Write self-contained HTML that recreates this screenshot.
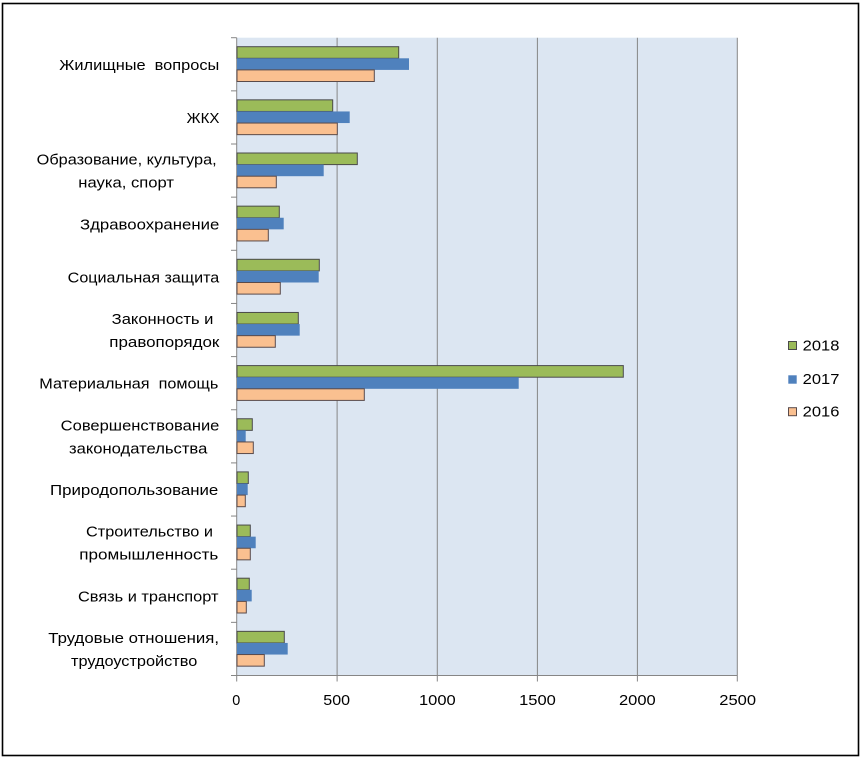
<!DOCTYPE html>
<html><head><meta charset="utf-8"><style>
html,body{margin:0;padding:0;background:#fff;}
svg{display:block;}
text{font-family:"Liberation Sans","DejaVu Sans",sans-serif;font-size:15px;fill:#000;}
</style></head><body>
<svg width="862" height="759" viewBox="0 0 862 759" xmlns="http://www.w3.org/2000/svg">
<rect x="0" y="0" width="862" height="759" fill="#fff"/>
<rect x="2.5" y="3.5" width="856" height="752" fill="none" stroke="#000" stroke-width="1.6"/>
<!-- plot area -->
<rect x="237" y="37.7" width="500" height="637.8" fill="#DCE6F2"/>
<g stroke="#868686" stroke-width="1">
<line x1="337.1" y1="37.7" x2="337.1" y2="681.5"/>
<line x1="437.3" y1="37.7" x2="437.3" y2="681.5"/>
<line x1="537.4" y1="37.7" x2="537.4" y2="681.5"/>
<line x1="637.4" y1="37.7" x2="637.4" y2="681.5"/>
<line x1="737.3" y1="37.7" x2="737.3" y2="681.5"/>
<line x1="236.7" y1="37.7" x2="236.7" y2="681.5"/>
<line x1="231" y1="675.5" x2="737.3" y2="675.5"/>
<line x1="231" y1="37.7" x2="236.7" y2="37.7"/>
<line x1="231" y1="90.85" x2="236.7" y2="90.85"/>
<line x1="231" y1="144" x2="236.7" y2="144"/>
<line x1="231" y1="197.15" x2="236.7" y2="197.15"/>
<line x1="231" y1="250.3" x2="236.7" y2="250.3"/>
<line x1="231" y1="303.45" x2="236.7" y2="303.45"/>
<line x1="231" y1="356.6" x2="236.7" y2="356.6"/>
<line x1="231" y1="409.75" x2="236.7" y2="409.75"/>
<line x1="231" y1="462.9" x2="236.7" y2="462.9"/>
<line x1="231" y1="516.05" x2="236.7" y2="516.05"/>
<line x1="231" y1="569.2" x2="236.7" y2="569.2"/>
<line x1="231" y1="622.35" x2="236.7" y2="622.35"/>
</g>
<!-- bars -->
<g>
<rect x="237" y="46.7" width="161.7" height="11.6" fill="#9BBB59" stroke="#4a4a4a" stroke-width="1"/>
<rect x="237" y="58.3" width="172" height="11.6" fill="#4F81BD"/>
<rect x="237" y="69.9" width="137.3" height="11.6" fill="#FAC090" stroke="#5a4a4a" stroke-width="1"/>
<rect x="237" y="99.85" width="95.7" height="11.6" fill="#9BBB59" stroke="#4a4a4a" stroke-width="1"/>
<rect x="237" y="111.45" width="112.7" height="11.6" fill="#4F81BD"/>
<rect x="237" y="123.05" width="100.3" height="11.6" fill="#FAC090" stroke="#5a4a4a" stroke-width="1"/>
<rect x="237" y="153" width="120.3" height="11.6" fill="#9BBB59" stroke="#4a4a4a" stroke-width="1"/>
<rect x="237" y="164.6" width="86.7" height="11.6" fill="#4F81BD"/>
<rect x="237" y="176.2" width="39.3" height="11.6" fill="#FAC090" stroke="#5a4a4a" stroke-width="1"/>
<rect x="237" y="206.15" width="42.3" height="11.6" fill="#9BBB59" stroke="#4a4a4a" stroke-width="1"/>
<rect x="237" y="217.75" width="46.7" height="11.6" fill="#4F81BD"/>
<rect x="237" y="229.35" width="31.3" height="11.6" fill="#FAC090" stroke="#5a4a4a" stroke-width="1"/>
<rect x="237" y="259.3" width="82.3" height="11.6" fill="#9BBB59" stroke="#4a4a4a" stroke-width="1"/>
<rect x="237" y="270.9" width="81.7" height="11.6" fill="#4F81BD"/>
<rect x="237" y="282.5" width="43.3" height="11.6" fill="#FAC090" stroke="#5a4a4a" stroke-width="1"/>
<rect x="237" y="312.45" width="61.3" height="11.6" fill="#9BBB59" stroke="#4a4a4a" stroke-width="1"/>
<rect x="237" y="324.05" width="62.7" height="11.6" fill="#4F81BD"/>
<rect x="237" y="335.65" width="38.3" height="11.6" fill="#FAC090" stroke="#5a4a4a" stroke-width="1"/>
<rect x="237" y="365.6" width="386.3" height="11.6" fill="#9BBB59" stroke="#4a4a4a" stroke-width="1"/>
<rect x="237" y="377.2" width="281.7" height="11.6" fill="#4F81BD"/>
<rect x="237" y="388.8" width="127.3" height="11.6" fill="#FAC090" stroke="#5a4a4a" stroke-width="1"/>
<rect x="237" y="418.75" width="15.3" height="11.6" fill="#9BBB59" stroke="#4a4a4a" stroke-width="1"/>
<rect x="237" y="430.35" width="8.7" height="11.6" fill="#4F81BD"/>
<rect x="237" y="441.95" width="16.3" height="11.6" fill="#FAC090" stroke="#5a4a4a" stroke-width="1"/>
<rect x="237" y="471.9" width="11.3" height="11.6" fill="#9BBB59" stroke="#4a4a4a" stroke-width="1"/>
<rect x="237" y="483.5" width="10.7" height="11.6" fill="#4F81BD"/>
<rect x="237" y="495.1" width="8.3" height="11.6" fill="#FAC090" stroke="#5a4a4a" stroke-width="1"/>
<rect x="237" y="525.05" width="13.3" height="11.6" fill="#9BBB59" stroke="#4a4a4a" stroke-width="1"/>
<rect x="237" y="536.65" width="18.7" height="11.6" fill="#4F81BD"/>
<rect x="237" y="548.25" width="13.3" height="11.6" fill="#FAC090" stroke="#5a4a4a" stroke-width="1"/>
<rect x="237" y="578.2" width="12.3" height="11.6" fill="#9BBB59" stroke="#4a4a4a" stroke-width="1"/>
<rect x="237" y="589.8" width="14.7" height="11.6" fill="#4F81BD"/>
<rect x="237" y="601.4" width="9.3" height="11.6" fill="#FAC090" stroke="#5a4a4a" stroke-width="1"/>
<rect x="237" y="631.35" width="47.3" height="11.6" fill="#9BBB59" stroke="#4a4a4a" stroke-width="1"/>
<rect x="237" y="642.95" width="50.7" height="11.6" fill="#4F81BD"/>
<rect x="237" y="654.55" width="27.3" height="11.6" fill="#FAC090" stroke="#5a4a4a" stroke-width="1"/>
</g>
<!-- category labels -->
<text x="59.3" y="70" textLength="160" lengthAdjust="spacingAndGlyphs">Жилищные&#160; вопросы</text>
<text x="186.7" y="122.9" textLength="32.7" lengthAdjust="spacingAndGlyphs">ЖКХ</text>
<text x="36.7" y="164.6" textLength="180" lengthAdjust="spacingAndGlyphs">Образование, культура,</text>
<text x="78.3" y="187.3" textLength="95.7" lengthAdjust="spacingAndGlyphs">наука, спорт</text>
<text x="80" y="229.6" textLength="139.3" lengthAdjust="spacingAndGlyphs">Здравоохранение</text>
<text x="67.7" y="282.4" textLength="151.6" lengthAdjust="spacingAndGlyphs">Социальная защита</text>
<text x="111.7" y="324" textLength="101.7" lengthAdjust="spacingAndGlyphs">Законность и</text>
<text x="109.3" y="346.8" textLength="110" lengthAdjust="spacingAndGlyphs">правопорядок</text>
<text x="39.3" y="388.7" textLength="179" lengthAdjust="spacingAndGlyphs">Материальная&#160; помощь</text>
<text x="60.7" y="430.3" textLength="158.7" lengthAdjust="spacingAndGlyphs">Совершенствование</text>
<text x="69" y="453.3" textLength="138.3" lengthAdjust="spacingAndGlyphs">законодательства</text>
<text x="50" y="495" textLength="168.3" lengthAdjust="spacingAndGlyphs">Природопользование</text>
<text x="86" y="536.6" textLength="127" lengthAdjust="spacingAndGlyphs">Строительство и</text>
<text x="79.3" y="559.6" textLength="139" lengthAdjust="spacingAndGlyphs">промышленность</text>
<text x="78" y="601.3" textLength="140.5" lengthAdjust="spacingAndGlyphs">Связь и транспорт</text>
<text x="48.3" y="642.9" textLength="170.7" lengthAdjust="spacingAndGlyphs">Трудовые отношения,</text>
<text x="71" y="665.9" textLength="126.3" lengthAdjust="spacingAndGlyphs">трудоустройство</text>
<!-- x axis labels -->
<text x="232.3" y="705" textLength="8" lengthAdjust="spacingAndGlyphs">0</text>
<text x="323.3" y="705" textLength="26.7" lengthAdjust="spacingAndGlyphs">500</text>
<text x="419" y="705" textLength="36.7" lengthAdjust="spacingAndGlyphs">1000</text>
<text x="519.1" y="705" textLength="36.7" lengthAdjust="spacingAndGlyphs">1500</text>
<text x="619" y="705" textLength="36.7" lengthAdjust="spacingAndGlyphs">2000</text>
<text x="719.3" y="705" textLength="36.7" lengthAdjust="spacingAndGlyphs">2500</text>
<!-- legend -->
<rect x="788.5" y="341.5" width="8" height="8" fill="#9BBB59" stroke="#4a4a4a" stroke-width="1"/>
<text x="802.7" y="350.7" textLength="36.7" lengthAdjust="spacingAndGlyphs">2018</text>
<rect x="788.3" y="375.3" width="8.4" height="8.4" fill="#4F81BD"/>
<text x="802.7" y="384.2" textLength="36.7" lengthAdjust="spacingAndGlyphs">2017</text>
<rect x="788.5" y="407.7" width="8" height="8" fill="#FAC090" stroke="#5a4a4a" stroke-width="1"/>
<text x="802.7" y="416.6" textLength="36.7" lengthAdjust="spacingAndGlyphs">2016</text>
</svg>
</body></html>
